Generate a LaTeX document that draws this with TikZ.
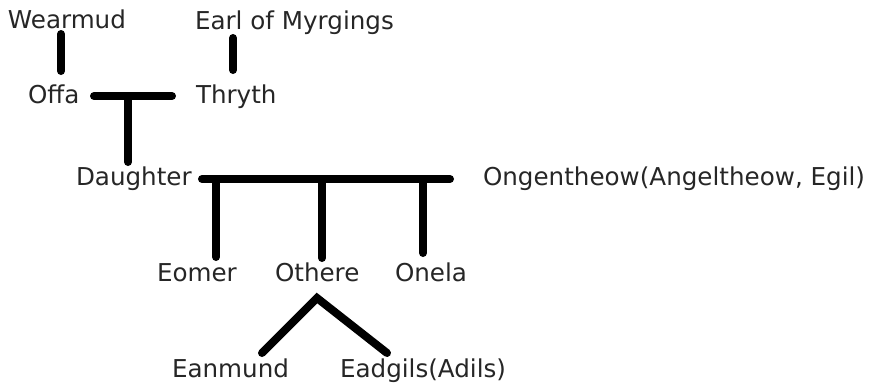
\documentclass[tikz,border=0pt]{standalone}
\usepackage{fontspec}
\setmainfont{DejaVu Sans}
\begin{document}
\begin{tikzpicture}[x=1pt,y=-1pt,
  person/.style={anchor=base west,inner sep=0pt,outer sep=0pt,text=black!85,font=\fontsize{24.6}{29}\selectfont},
  link/.style={line width=8pt,line cap=round,black}]
\useasboundingbox (0,0) rectangle (871,386);
% people
\node[person] (wearmud) at (8,28) {Wearmud};
\node[person] (earl) at (195,29) {Earl of Myrgings};
\node[person] (offa) at (28,103) {Offa};
\node[person] (thryth) at (196,103) {Thryth};
\node[person] (daughter) at (76,185) {Daughter};
\node[person] (ongen) at (483,185) {Ongentheow(Angeltheow, Egil)};
\node[person] (eomer) at (157,281) {Eomer};
\node[person] (othere) at (275,281) {Othere};
\node[person] (onela) at (395,281) {Onela};
\node[person] (eanmund) at (172,377) {Eanmund};
\node[person] (eadgils) at (340,377) {Eadgils(Adils)};
% connector ends
\coordinate (wearmudfoot) at (61,34);
\coordinate (offahead) at (61,71);
\coordinate (earlfoot) at (233,38);
\coordinate (thrythhead) at (233,70);
\coordinate (m1) at (94,96);
\coordinate (m2) at (172,96);
\coordinate (m3) at (128,96);
\coordinate (daughterhead) at (128,162);
\coordinate (b1) at (202,179);
\coordinate (b2) at (450,179);
\coordinate (eomerhead) at (216,257);
\coordinate (otherehead) at (322,258);
\coordinate (onelahead) at (423,253);
\coordinate (v) at (317,298);
\coordinate (eanmundhead) at (262,353);
\coordinate (eadgilshead) at (387,353);
% connectors
\draw[link] (wearmudfoot) -- (offahead);
\draw[link] (earlfoot) -- (thrythhead);
\draw[link] (m1) -- (m2);
\draw[link] (m3) -- (daughterhead);
\draw[link] (b1) -- (b2);
\draw[link] (b1 -| eomerhead) -- (eomerhead);
\draw[link] (b1 -| otherehead) -- (otherehead);
\draw[link] (b1 -| onelahead) -- (onelahead);
\draw[link] (eanmundhead) -- (v) -- (eadgilshead);
\end{tikzpicture}
\end{document}
